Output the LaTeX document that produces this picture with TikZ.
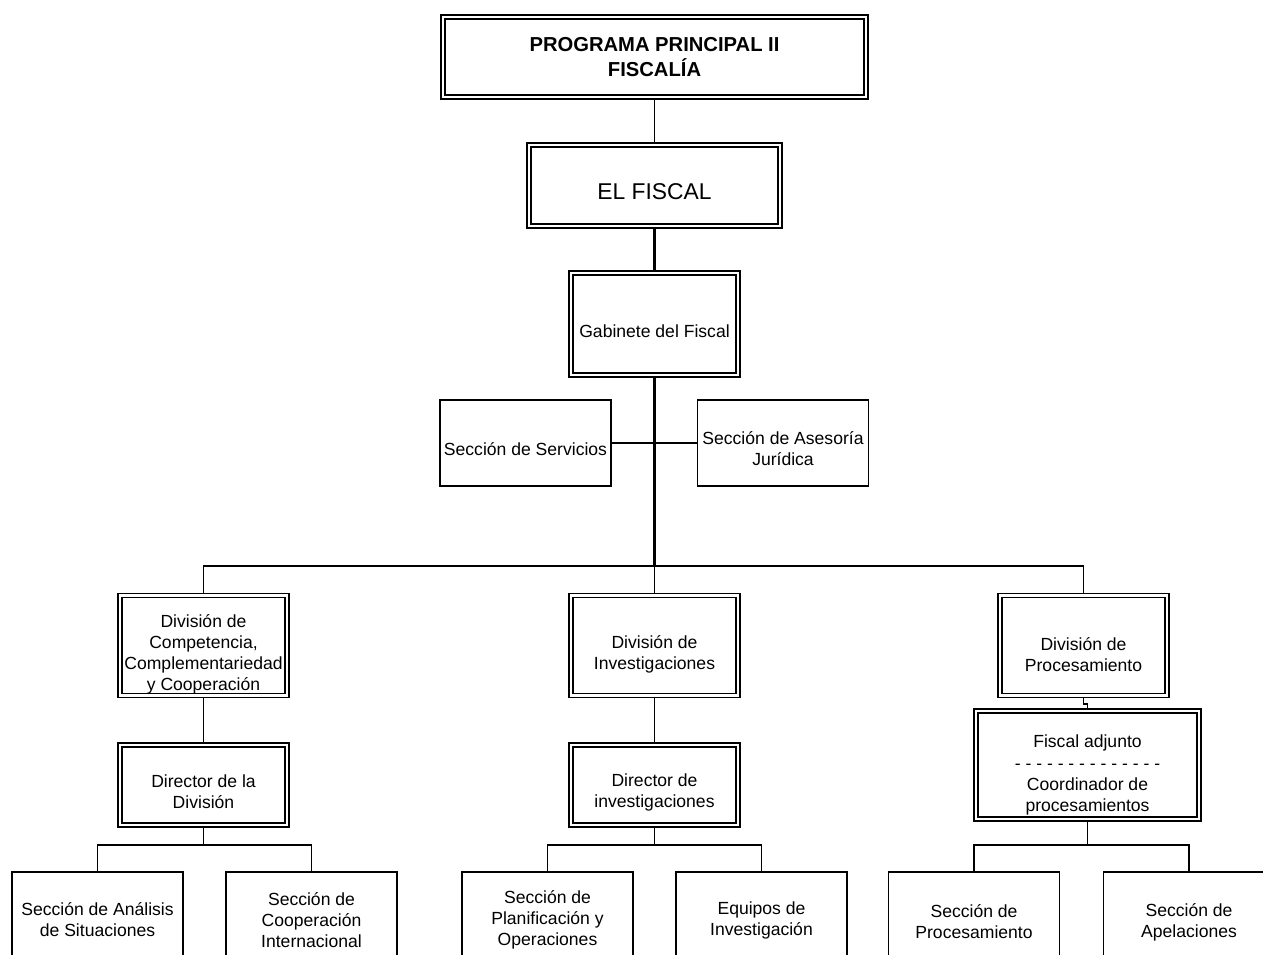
\documentclass[tikz,border=0pt]{standalone}
\usepackage{fontspec}
\setmainfont{Liberation Sans}
\usetikzlibrary{backgrounds}
\newcommand{\topstrut}[1]{\rule{0pt}{#1}}
\tikzset{%
    dbox/.style={draw, double, double distance=1.6pt, line width=0.85pt,
        align=center, inner sep=0pt, font=\fontsize{10}{12}\selectfont},
    sbox/.style={draw, line width=0.75pt, align=center, inner sep=0pt,
        minimum width=3.42cm, font=\fontsize{10}{12}\selectfont},
    link/.style={line width=1pt},
    trunk/.style={line width=1.7pt}
}

\begin{document}
\begin{tikzpicture}[x=0.02cm,y=-0.02cm]
\useasboundingbox (0,0) rectangle (1263,954);
\clip (0,0) rectangle (1263,954);

\node[dbox,minimum width=8.46cm,minimum height=1.6cm,font=\fontsize{11.5}{14}\selectfont\bfseries] (prog) at (654.5,57) {PROGRAMA PRINCIPAL II\\FISCALÍA};
\node[dbox,minimum width=5.02cm,minimum height=1.62cm,font=\fontsize{13}{15}\selectfont] (fiscal) at (654.5,185.5) {\topstrut{16pt}EL FISCAL};
\node[dbox,minimum width=3.34cm,minimum height=2.04cm] (gab) at (654.5,324) {\topstrut{15.3pt}Gabinete del Fiscal};

\node[sbox,minimum height=1.72cm] (serv) at (525.5,443) {\topstrut{14.2pt}Sección de Servicios};
\node[sbox,minimum height=1.72cm] (ases) at (783,443) {\topstrut{14.2pt}Sección de Asesoría\\Jurídica};

\node[dbox,minimum width=3.34cm,minimum height=2cm] (divc) at (203.5,645.5) {\topstrut{17.6pt}División de\\Competencia,\\Complementariedad\\y Cooperación};
\node[dbox,minimum width=3.34cm,minimum height=2cm] (divi) at (654.5,645.5) {\topstrut{17.6pt}División de\\Investigaciones};
\node[dbox,minimum width=3.34cm,minimum height=2cm] (divp) at (1083.5,645.5) {\topstrut{17.6pt}División de\\Procesamiento};

\node[dbox,minimum width=3.34cm,minimum height=1.6cm] (dirc) at (203.5,785) {\topstrut{15.3pt}Director de la\\División};
\node[dbox,minimum width=3.34cm,minimum height=1.6cm] (diri) at (654.5,785) {\topstrut{15.3pt}Director de\\investigaciones};
\node[dbox,minimum width=4.46cm,minimum height=2.16cm] (fadj) at (1087.5,765) {\topstrut{18.7pt}Fiscal adjunto\\- - - - - - - - - - - - - -\\Coordinador de\\procesamientos};

\node[sbox,minimum height=1.92cm] (anal) at (97.5,920) {Sección de Análisis\\de Situaciones};
\node[sbox,minimum height=1.92cm] (coop) at (311.5,920) {Sección de\\Cooperación\\Internacional};
\node[sbox,minimum height=1.92cm] (plan) at (547.5,920) {Sección de\\Planificación y\\Operaciones};
\node[sbox,minimum height=1.92cm] (equi) at (761.5,920) {Equipos de\\Investigación};
\node[sbox,minimum height=1.92cm] (proc) at (974,920) {\topstrut{9.7pt}Sección de\\Procesamiento};
\node[sbox,minimum height=1.92cm] (apel) at (1189,920) {\topstrut{9.7pt}Sección de\\Apelaciones};

\coordinate (hub) at (654.5,566);
\coordinate (cjoin) at (203.5,845);
\coordinate (ijoin) at (654.5,845);
\coordinate (pjoin) at (1087.5,845);

\begin{scope}[on background layer]
\draw[link] (prog) -- (fiscal);
\draw[trunk] (fiscal) -- (gab);
\draw[trunk] (gab) -- (hub);
\draw[link] (serv) -- (ases);
\draw[link] (divc.north) |- (hub) -| (divp.north);
\draw[link] (hub) -- (divi);

\draw[link] (divc) -- (dirc);
\draw[link] (divi) -- (diri);
\draw[link] (divp.south) -- ++(0,7.5) -| (fadj.north);

\draw[link] (dirc) -- (cjoin);
\draw[link] (anal.north) |- (cjoin) -| (coop.north);
\draw[link] (diri) -- (ijoin);
\draw[link] (plan.north) |- (ijoin) -| (equi.north);
\draw[link] (fadj) -- (pjoin);
\draw[link] (proc.north) |- (pjoin) -| (apel.north);
\end{scope}
\end{tikzpicture}
\end{document}
